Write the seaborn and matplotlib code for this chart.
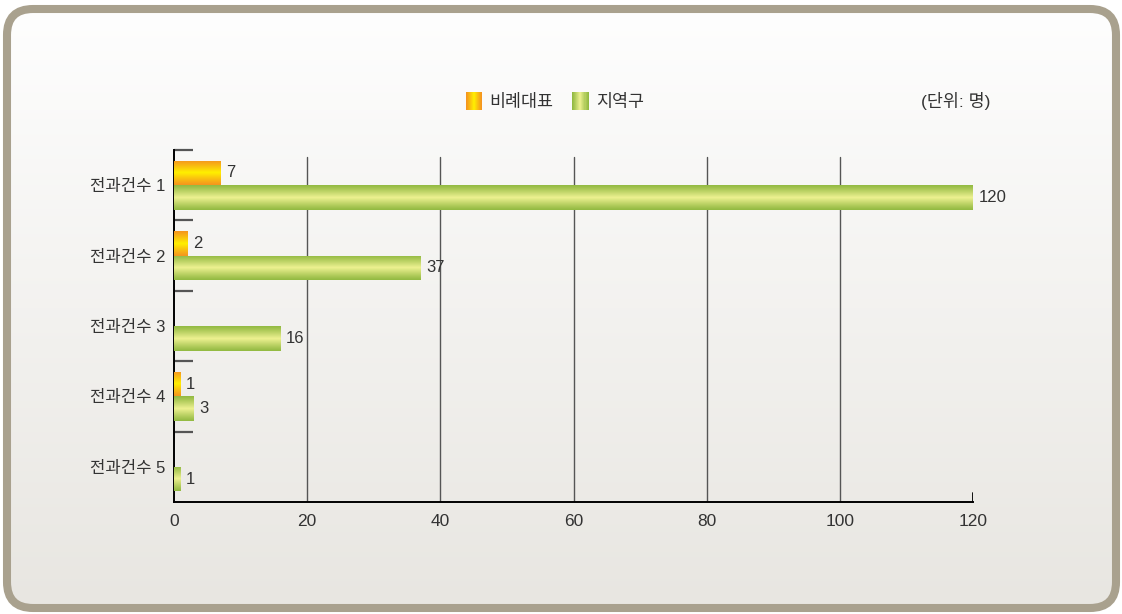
import numpy as np
import pandas as pd
import seaborn as sns
import matplotlib.pyplot as plt
from matplotlib.patches import FancyBboxPatch, Rectangle
from matplotlib.legend_handler import HandlerBase
from matplotlib.colors import to_rgb

categories = ["전과건수 1", "전과건수 2", "전과건수 3", "전과건수 4", "전과건수 5"]
series_names = ["비례대표", "지역구"]
proportional = [7, 2, 0, 1, 0]
district = [120, 37, 16, 3, 1]
x_ticks = [0, 20, 40, 60, 80, 100, 120]
unit_text = "(단위: 명)"

sns.set_style("white")
plt.rcParams["font.family"] = ["Liberation Sans", "Noto Sans CJK KR", "DejaVu Sans"]

df = pd.DataFrame({
    "category": categories * 2,
    "type": [series_names[0]] * len(categories) + [series_names[1]] * len(categories),
    "count": proportional + district,
})

# gradient colours (edge, centre) for each series
grad = {
    series_names[0]: ("#f5961e", "#fff000"),
    series_names[1]: ("#93ba42", "#eef191"),
}


def gradient_colors(edge, centre, n=64):
    e = np.array(to_rgb(edge))
    c = np.array(to_rgb(centre))
    t = np.linspace(-1, 1, n)
    w = (1 - np.abs(t)) ** 1.1
    return e + (c - e) * w[:, None]


fig = plt.figure(figsize=(11.22, 6.14), dpi=100)

# background panel with rounded border
bg = fig.add_axes([0, 0, 1, 1], zorder=0)
bg.axis("off")
box = FancyBboxPatch((7, 9), 1109, 599, boxstyle="round,pad=0,rounding_size=26",
                     facecolor="none", edgecolor="#a9a18e", linewidth=5.8)
bg.add_patch(box)
top_c = np.array(to_rgb("#fefefe"))
bot_c = np.array(to_rgb("#e8e6e1"))
tt = np.linspace(0, 1, 200)[:, None]
bg_img = (top_c + (bot_c - top_c) * tt)[:, None, :]
im = bg.imshow(bg_img, extent=(7, 1116, 608, 9), aspect="auto", zorder=0)
im.set_clip_path(box)
bg.set_xlim(0, 1122)
bg.set_ylim(614, 0)

# main chart
ax = fig.add_axes([174 / 1122, 1 - 502 / 614, (973 - 174) / 1122, (502 - 150) / 614], zorder=1)
ax.patch.set_alpha(0)
sns.barplot(data=df, y="category", x="count", hue="type", orient="h",
            width=0.7, palette=[grad[s][1] for s in series_names],
            legend=False, ax=ax, saturation=1)

for name, cont in zip(series_names, ax.containers):
    cols = gradient_colors(*grad[name])[:, None, :]
    for bar in cont:
        w = bar.get_width()
        if w <= 0:
            continue
        x0, y0, h = bar.get_x(), bar.get_y(), bar.get_height()
        gi = ax.imshow(cols, extent=(x0, x0 + w, y0 + h, y0), aspect="auto", zorder=3)
        gi.set_clip_path(bar)
        bar.set_facecolor("none")
        bar.set_edgecolor("none")
    labels = [str(int(b.get_width())) if b.get_width() > 0 else "" for b in cont]
    ax.bar_label(cont, labels=labels, padding=4, fontsize=12, color="#333333")

ax.set_xlim(0, 120)
ax.set_ylim(len(categories) - 0.5, -0.5)
ax.set_xlabel("")
ax.set_ylabel("")

for xv in x_ticks[1:-1]:
    ax.axvline(xv, ymin=0, ymax=0.98, color="#555555", linewidth=1, zorder=1)
# small end tick at the last x value
ax.axvline(x_ticks[-1], ymin=0, ymax=0.025, color="black", linewidth=1.3, zorder=4)

for s in ["top", "right"]:
    ax.spines[s].set_visible(False)
for s in ["left", "bottom"]:
    ax.spines[s].set_color("black")
    ax.spines[s].set_linewidth(1.4)

ax.set_xticks(x_ticks)
ax.set_xticklabels([str(v) for v in x_ticks])
ax.tick_params(axis="x", which="major", length=0, pad=9, labelsize=12.5, colors="#333333")

ax.set_yticks(range(len(categories)))
ax.set_yticklabels(categories)
ax.set_yticks(np.arange(len(categories)) - 0.5, minor=True)
ax.tick_params(axis="y", which="major", left=True, length=0, pad=6, labelsize=12, colors="#333333")
ax.tick_params(axis="y", which="minor", left=True, direction="in", length=14, width=1.6, color="#555555")


class HandlerGradient(HandlerBase):
    def __init__(self, edge, centre):
        super().__init__()
        self.edge = edge
        self.centre = centre

    def create_artists(self, legend, orig_handle, xdescent, ydescent, width, height, fontsize, trans):
        n = 16
        cols = gradient_colors(self.edge, self.centre, n)
        side = 12.5
        x0 = -xdescent + (width - side * 0.95) / 2
        y0 = -ydescent + (height - side) / 2
        sw = side * 0.95 / n
        arts = []
        for i in range(n):
            r = Rectangle((x0 + i * sw, y0), sw * 1.05, side, facecolor=cols[i],
                          edgecolor="none", transform=trans)
            arts.append(r)
        return arts


h1 = Rectangle((0, 0), 1, 1)
h2 = Rectangle((0, 0), 1, 1)
fig.legend([h1, h2], series_names, loc="center",
           bbox_to_anchor=(555 / 1122, 1 - 102 / 614), ncol=2, frameon=False,
           fontsize=12.5, handlelength=0.9, handletextpad=0.45, columnspacing=1.1,
           labelcolor="#333333",
           handler_map={h1: HandlerGradient(*grad[series_names[0]]),
                        h2: HandlerGradient(*grad[series_names[1]])})

fig.text(956 / 1122, 1 - 101 / 614, unit_text, ha="center", va="center",
         fontsize=12.5, color="#333333")

fig.savefig("out.png", dpi=100)
